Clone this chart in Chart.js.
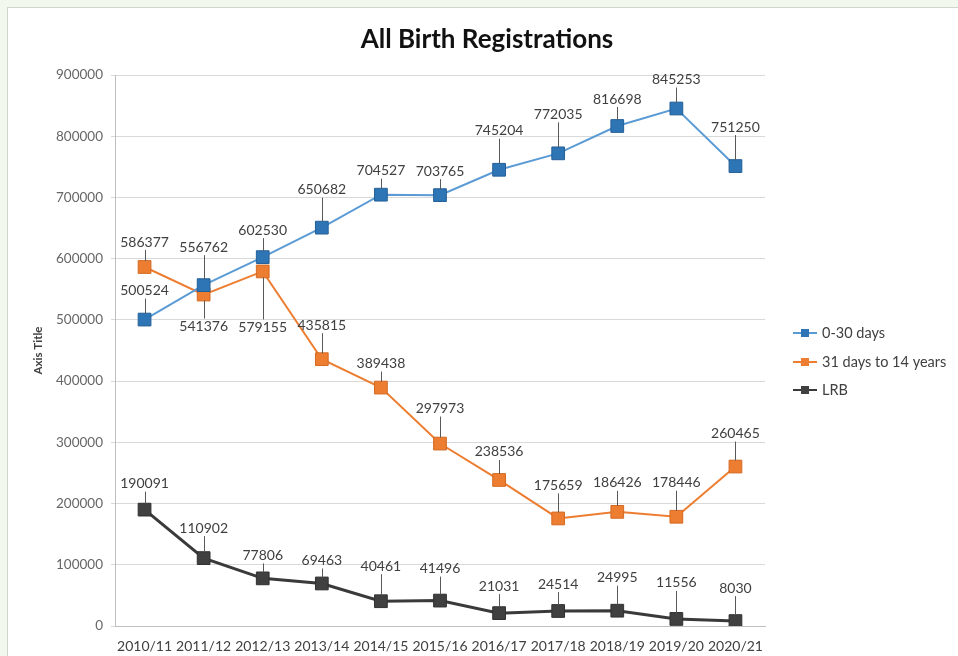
<!DOCTYPE html>
<html>
<head>
<meta charset="utf-8">
<script src="https://cdn.jsdelivr.net/npm/chart.js@4"></script>
<style>
  html, body { margin: 0; padding: 0; }
  body { width: 958px; height: 656px; background: #f2f8ee; overflow: hidden; position: relative; }
  .card {
    position: absolute; left: 7px; top: 7px; width: 951px; height: 649px;
    background: #fff; border-left: 1px solid #cfd8c8; border-top: 1px solid #cfd8c8;
  }
  .card canvas { display: block; }
</style>
</head>
<body>
<div class="card"><canvas id="birthChart" width="950" height="648"></canvas></div>
<script>
const years = ['2010/11', '2011/12', '2012/13', '2013/14', '2014/15', '2015/16',
  '2016/17', '2017/18', '2018/19', '2019/20', '2020/21'];
const upTo30Days = [500524, 556762, 602530, 650682, 704527, 703765, 745204, 772035, 816698, 845253, 751250];
const upTo14Years = [586377, 541376, 579155, 435815, 389438, 297973, 238536, 175659, 186426, 178446, 260465];
const lrb = [190091, 110902, 77806, 69463, 40461, 41496, 21031, 24514, 24995, 11556, 8030];
const yTicks = [0, 100000, 200000, 300000, 400000, 500000, 600000, 700000, 800000, 900000];

// vertical distance (px) from each marker to its value label
const labelShift = [
  [-29, -38, -27, -38, -24, -24, -39, -39, -27, -29, -39],
  [-25, 32, 56, -34, -24, -35, -28, -33, -29, -34, -33],
  [-26, -30, -23, -23, -35, -32, -27, -27, -33, -36, -33]
];

const FONT = 'Lato, "Open Sans", sans-serif';

// chart heading, centred on the whole card rather than the plot
const heading = {
  id: 'heading',
  afterDraw(chart) {
    const ctx = chart.ctx;
    ctx.save();
    ctx.font = 'bold 26px ' + FONT;
    ctx.fillStyle = '#111';
    ctx.textAlign = 'center';
    ctx.textBaseline = 'middle';
    ctx.fillText('All Birth Registrations', 479, 32);
    ctx.restore();
  }
};

const valueLabels = {
  id: 'valueLabels',
  afterDatasetsDraw(chart) {
    const ctx = chart.ctx;
    ctx.save();
    ctx.font = '14px ' + FONT;
    ctx.textAlign = 'center';
    ctx.textBaseline = 'middle';
    chart.data.datasets.forEach((ds, i) => {
      chart.getDatasetMeta(i).data.forEach((pt, j) => {
        const dy = labelShift[i][j];
        const ty = pt.y + dy;
        // leader line
        let a, b;
        if (dy < 0) { a = ty + 8; b = pt.y - 6; } else { a = pt.y + 6; b = ty - 8; }
        if (b - a > 2) {
          ctx.strokeStyle = '#595959';
          ctx.lineWidth = 1;
          ctx.beginPath();
          ctx.moveTo(Math.round(pt.x) + 0.5, a);
          ctx.lineTo(Math.round(pt.x) + 0.5, b);
          ctx.stroke();
        }
        ctx.fillStyle = '#404040';
        ctx.fillText(String(ds.data[j]), pt.x, ty);
      });
    });
    ctx.restore();
  }
};

const sideLegend = {
  id: 'sideLegend',
  afterDraw(chart) {
    const ctx = chart.ctx;
    const rows = [325, 354, 382];
    ctx.save();
    ctx.font = '14.5px ' + FONT;
    ctx.textBaseline = 'middle';
    chart.data.datasets.forEach((ds, i) => {
      const y = rows[i];
      ctx.strokeStyle = ds.borderColor;
      ctx.lineWidth = 2;
      ctx.beginPath();
      ctx.moveTo(785, y);
      ctx.lineTo(809, y);
      ctx.stroke();
      ctx.fillStyle = ds.pointBackgroundColor;
      ctx.fillRect(793, y - 4, 8, 8);
      ctx.fillStyle = '#404040';
      ctx.fillText(ds.label, 814, y);
    });
    ctx.restore();
  }
};

new Chart(document.getElementById('birthChart'), {
  type: 'line',
  data: {
    labels: years,
    datasets: [
      {
        label: '0-30 days',
        data: upTo30Days,
        borderColor: '#5b9bd5',
        borderWidth: 2,
        pointStyle: 'rect',
        pointRadius: 9,
        pointBackgroundColor: '#2e75b6',
        pointBorderColor: '#245f96',
        pointBorderWidth: 1
      },
      {
        label: '31 days to 14 years',
        data: upTo14Years,
        borderColor: '#ed7d31',
        borderWidth: 2,
        pointStyle: 'rect',
        pointRadius: 9,
        pointBackgroundColor: '#ed7d31',
        pointBorderColor: '#d46a22',
        pointBorderWidth: 1
      },
      {
        label: 'LRB',
        data: lrb,
        borderColor: '#3a3a3a',
        borderWidth: 3,
        pointStyle: 'rect',
        pointRadius: 9,
        pointBackgroundColor: '#404040',
        pointBorderColor: '#303030',
        pointBorderWidth: 1
      }
    ]
  },
  options: {
    responsive: false,
    animation: false,
    layout: { padding: { left: 0, right: 193, top: 67, bottom: 4 } },
    plugins: {
      legend: { display: false },
      tooltip: { enabled: false },
      title: { display: false }
    },
    scales: {
      x: {
        offset: true,
        afterFit(scale) { scale.height = 26; },
        grid: { display: false, drawTicks: false },
        border: { color: '#bfbfbf', width: 1 },
        ticks: {
          color: '#404040',
          font: { family: FONT, size: 14 },
          padding: 12,
          maxRotation: 0,
          autoSkip: false
        }
      },
      y: {
        min: 0,
        max: 900000,
        afterBuildTicks(scale) { scale.ticks = yTicks.map(v => ({ value: v })); },
        afterFit(scale) { scale.width = 107; },
        grid: { color: '#d9d9d9', drawTicks: true, tickLength: 4 },
        border: { color: '#bfbfbf', width: 1 },
        ticks: {
          color: '#666',
          font: { family: FONT, size: 13.5 },
          padding: 8,
          callback: v => String(v)
        },
        title: {
          display: true,
          text: 'Axis Title',
          color: '#404040',
          font: { family: FONT, size: 11.5, weight: 'bold' },
          padding: { top: 23 }
        }
      }
    }
  },
  plugins: [heading, valueLabels, sideLegend]
});
</script>
</body>
</html>
